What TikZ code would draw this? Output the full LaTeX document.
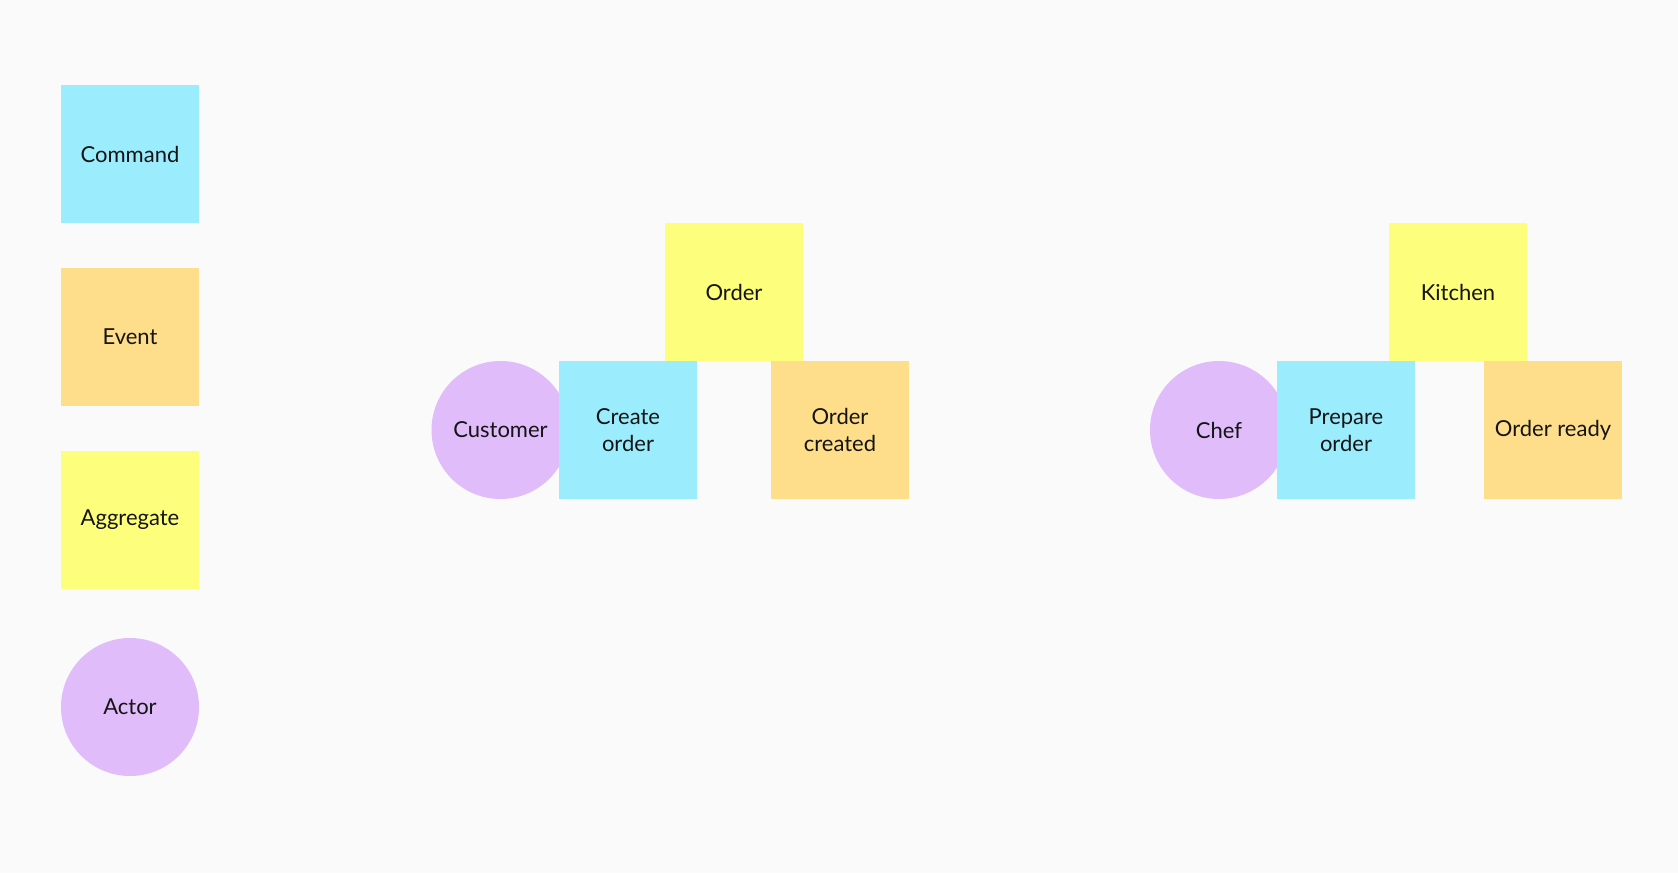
\documentclass[tikz,border=0pt]{standalone}
\usepackage{fontspec}
\setmainfont{Lato}
\usepackage{tikz}
\usetikzlibrary{positioning}
\definecolor{bgcol}{RGB}{250,250,250}
\definecolor{cmdcol}{RGB}{155,237,254}
\definecolor{evtcol}{RGB}{254,222,139}
\definecolor{aggcol}{RGB}{253,254,124}
\definecolor{actcol}{RGB}{225,188,250}
\definecolor{txtcol}{RGB}{20,20,20}
\tikzset{
  sticky/.style={rectangle, minimum size=138pt, inner sep=0pt,
    align=center, text=txtcol, font=\fontsize{22}{27.5}\selectfont},
  command/.style={sticky, fill=cmdcol},
  event/.style={sticky, fill=evtcol},
  aggregate/.style={sticky, fill=aggcol},
  actor/.style={sticky, circle, fill=actcol}
}
\begin{document}
\begin{tikzpicture}[x=1pt, y=-1pt]
  % canvas
  \fill[bgcol] (0,0) rectangle (1678,873);
  \useasboundingbox (0,0) rectangle (1678,873);

  % Legend
  \node[command] (legcmd) at (130,154) {Command};
  \node[event] (legevt) at (130,337) {Event};
  \node[aggregate] (legagg) at (130,520) {Aggregate};
  \node[actor] (legact) at (130,707) {Actor};

  % Ordering
  \node[aggregate] (order) at (734,292) {Order};
  \node[actor] (customer) at (500.5,430) {Customer};
  \node[command] (createorder) at (628,430) {Create\\order};
  \node[event] (ordercreated) at (840,430) {Order\\created};

  % Kitchen
  \node[aggregate] (kitchen) at (1458,292) {Kitchen};
  \node[actor] (chef) at (1219,430) {Chef};
  \node[command] (prepareorder) at (1346,430) {Prepare\\order};
  \node[event] (orderready) at (1553,430) {Order ready};
\end{tikzpicture}
\end{document}
